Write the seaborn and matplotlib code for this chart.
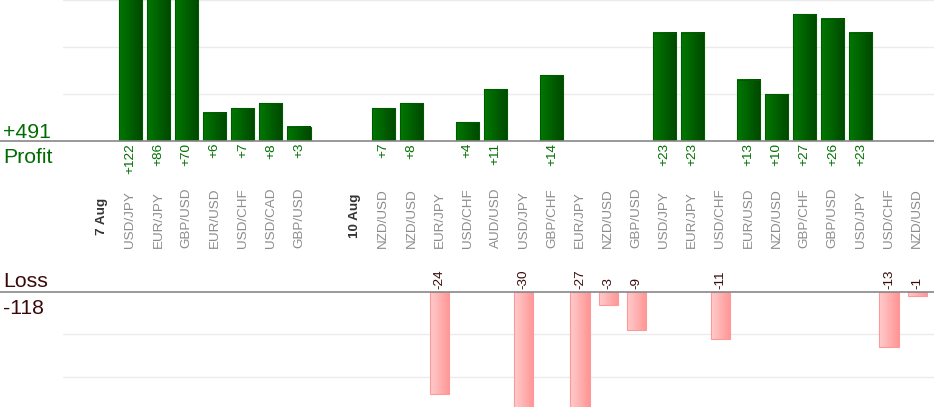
import matplotlib
matplotlib.use("Agg")
import matplotlib.pyplot as plt
from matplotlib.colors import LinearSegmentedColormap
from matplotlib.lines import Line2D
from matplotlib.transforms import blended_transform_factory
import numpy as np
import pandas as pd
import seaborn as sns

# trades per day, pips result
day_labels = ["7 Aug", "10 Aug"]
pairs_7aug = ["USD/JPY", "EUR/JPY", "GBP/USD", "EUR/USD", "USD/CHF", "USD/CAD", "GBP/USD"]
results_7aug = [122, 86, 70, 6, 7, 8, 3]
pairs_10aug = ["NZD/USD", "NZD/USD", "EUR/JPY", "USD/CHF", "AUD/USD", "USD/JPY", "GBP/CHF",
               "EUR/JPY", "NZD/USD", "GBP/USD", "USD/JPY", "EUR/JPY", "USD/CHF", "EUR/USD",
               "NZD/USD", "GBP/CHF", "GBP/USD", "USD/JPY", "USD/CHF", "NZD/USD"]
results_10aug = [7, 8, -24, 4, 11, -30, 14, -27, -3, -9, 23, 23, -11, 13, 10, 27, 26, 23, -13, -1]

days = [(day_labels[0], pairs_7aug, results_7aug), (day_labels[1], pairs_10aug, results_10aug)]

# build slot table: one slot for the date label, one per trade, one blank between days
rows, date_slots = [], []
slot = 0
for i, (day, pairs, results) in enumerate(days):
    if i > 0:
        slot += 1
    date_slots.append((slot, day))
    slot += 1
    for pair, res in zip(pairs, results):
        rows.append({"slot": slot, "pair": pair, "result": res})
        slot += 1
df = pd.DataFrame(rows)
profit_df = df[df["result"] > 0]
loss_df = df[df["result"] < 0]
total_profit = profit_df["result"].sum()
total_loss = loss_df["result"].sum()

sns.set_style("white")
plt.rcParams["font.family"] = ["Liberation Sans", "DejaVu Sans"]

W, H = 934, 420
fig = plt.figure(figsize=(W / 100, H / 100), dpi=100)
ax_top = fig.add_axes([63 / W, 1 - 141 / H, 1 - 63 / W, 141 / H])
ax_bot = fig.add_axes([63 / W, 1 - 407 / H, 1 - 63 / W, 115 / H])

sns.barplot(data=profit_df, x="slot", y="result", native_scale=True, width=0.82,
            color="#006400", edgecolor="#005a00", linewidth=0.8, errorbar=None, ax=ax_top)
sns.barplot(data=loss_df, x="slot", y="result", native_scale=True, width=0.68,
            color="#ffaaaa", edgecolor="#ff9999", linewidth=0.8, errorbar=None, ax=ax_bot)

green_cmap = LinearSegmentedColormap.from_list("g", ["#007800", "#004800"])
pink_cmap = LinearSegmentedColormap.from_list("p", ["#ffcccc", "#ff9595"])


def shade(ax, cmap):
    # horizontal gradient inside each bar
    grad = np.linspace(0, 1, 64).reshape(1, -1)
    for p in list(ax.patches):
        x, y, w, h = p.get_x(), p.get_y(), p.get_width(), p.get_height()
        im = ax.imshow(grad, cmap=cmap, extent=[x, x + w, y, y + h], aspect="auto",
                       interpolation="bilinear", zorder=p.get_zorder() - 0.1)
        im.set_clip_path(p)
        im.set_clip_box(ax.bbox)
        p.set_facecolor("none")


shade(ax_top, green_cmap)
shade(ax_bot, pink_cmap)

xmin, xmax = -1.40, 29.6
for ax in (ax_top, ax_bot):
    ax.set_xlim(xmin, xmax)
    ax.set_xlabel("")
    ax.set_ylabel("")
    ax.set_xticks([])
    ax.set_yticks([])
    sns.despine(ax=ax, left=True, bottom=True)
    ax.set_facecolor("none")

ax_top.set_ylim(0, 30)
ax_bot.set_ylim(-27.1, 0)
for v in (10, 20, 30):
    ax_top.axhline(v, color="#ebebeb", lw=1, zorder=0)
for v in (-10, -20):
    ax_bot.axhline(v, color="#ebebeb", lw=1, zorder=0)

# baselines across the whole width
for ypx in (141, 292):
    fig.add_artist(Line2D([0, 1], [1 - ypx / H, 1 - ypx / H], color="#888888", lw=1.2,
                          transform=fig.transFigure))

tr = blended_transform_factory(ax_top.transData, fig.transFigure)
fs = 9.7
for _, r in df.iterrows():
    ax_top.text(r["slot"], 1 - 248 / H, r["pair"], rotation=90, ha="center", va="bottom",
                color="#8c8c8c", fontsize=fs, transform=tr)
for s, day in date_slots:
    ax_top.text(s, 1 - 216 / H, day, rotation=90, ha="center", va="center",
                color="#333333", fontsize=fs, fontweight="bold", transform=tr)
for _, r in profit_df.iterrows():
    ax_top.text(r["slot"], 1 - 143 / H, f"+{r['result']}", rotation=90, ha="center", va="top",
                color="#007000", fontsize=fs, transform=tr)
for _, r in loss_df.iterrows():
    ax_top.text(r["slot"], 1 - 289 / H, f"{r['result']}", rotation=90, ha="center", va="bottom",
                color="#3a0a0a", fontsize=fs, transform=tr)

big = 15.3
fig.text(3 / W, 1 - 138 / H, f"+{total_profit}", color="#006b00", fontsize=big, va="baseline")
fig.text(3 / W, 1 - 163 / H, "Profit", color="#006b00", fontsize=big, va="baseline")
fig.text(3 / W, 1 - 287 / H, "Loss", color="#3a0a0a", fontsize=big, va="baseline")
fig.text(3 / W, 1 - 314 / H, f"{total_loss}", color="#3a0a0a", fontsize=big, va="baseline")

fig.savefig("out.png", dpi=100)
plt.close(fig)
